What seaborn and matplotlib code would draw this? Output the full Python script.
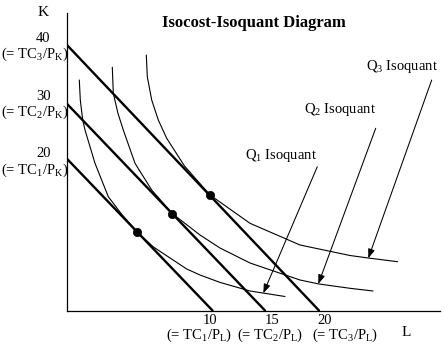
import numpy as np
import pandas as pd
import matplotlib
matplotlib.use("Agg")
import matplotlib.pyplot as plt
import seaborn as sns

# ---------------- data (chart units: 1 unit ~ 1 px from the origin) ----------------
isocost_names = ["TC1", "TC2", "TC3"]
isocost_K_intercept = [152.2, 207.2, 266.0]   # where each isocost meets the K axis
isocost_L_intercept = [146.0, 198.5, 252.5]   # where each isocost meets the L axis
K_tick_values = ["20", "30", "40"]
L_tick_values = ["10", "15", "20"]

q1_L = [12.8, 13.8, 16.2, 18.5, 28.5, 41.8, 55.2, 70.2, 86.8, 120.2, 133.5, 153.5, 183.5, 218.5]
q1_K = [230.5, 210.5, 190.5, 180.5, 147.2, 113.8, 96.2, 79.0, 63.6, 41.5, 35.5, 28.1, 19.5, 14.0]

q2_L = [45.8, 46.8, 51.5, 56.8, 68.5, 85.2, 105.7, 133.5, 153.5, 183.5, 233.5, 252.5, 283.5, 306.5]
q2_K = [243.2, 217.2, 197.0, 180.5, 147.2, 120.5, 97.0, 75.5, 62.5, 47.5, 30.5, 26.5, 22.2, 19.5]

q3_L = [79.8, 80.8, 85.2, 91.8, 100.2, 118.0, 143.5, 183.5, 233.5, 283.5, 301.8, 331.0]
q3_K = [255.5, 233.8, 210.5, 190.5, 172.2, 144.5, 115.5, 87.2, 65.5, 55.0, 52.5, 48.8]

tangent_L = [70.2, 105.7, 143.5]
tangent_K = [79.0, 97.0, 115.5]

arrow_start_L = [250.8, 309.2, 365.2]
arrow_start_K = [143.8, 182.2, 230.5]
arrow_tip_L = [196.8, 251.8, 301.8]
arrow_tip_K = [17.2, 26.5, 52.2]

# ---------------- build tables ----------------
iso_rows = []
for n, k, l in zip(isocost_names, isocost_K_intercept, isocost_L_intercept):
    iso_rows.append({"curve": n, "L": 0.0, "K": k})
    iso_rows.append({"curve": n, "L": l, "K": 0.0})
isocost_df = pd.DataFrame(iso_rows)

isoq_df = pd.concat([
    pd.DataFrame({"curve": "Q1", "L": q1_L, "K": q1_K}),
    pd.DataFrame({"curve": "Q2", "L": q2_L, "K": q2_K}),
    pd.DataFrame({"curve": "Q3", "L": q3_L, "K": q3_K}),
], ignore_index=True)

tan_df = pd.DataFrame({"L": tangent_L, "K": tangent_K})

# ---------------- style ----------------
sns.set_style("white")
plt.rcParams["font.family"] = ["Liberation Serif", "DejaVu Serif"]
plt.rcParams["mathtext.fontset"] = "custom"
plt.rcParams["mathtext.rm"] = "Liberation Serif"
plt.rcParams["mathtext.it"] = "Liberation Serif:italic"
plt.rcParams["mathtext.bf"] = "Liberation Serif:bold"

W, H = 445, 348
fig = plt.figure(figsize=(W / 100, H / 100), dpi=100)
ax = fig.add_axes([66.5 / W, 37.5 / H, 373.5 / W, 297.5 / H])

sns.lineplot(data=isoq_df, x="L", y="K", hue="curve", palette=["black"] * 3,
             sort=False, estimator=None, legend=False, lw=0.8, ax=ax)
sns.lineplot(data=isocost_df, x="L", y="K", hue="curve", palette=["black"] * 3,
             sort=False, estimator=None, legend=False, lw=1.7, ax=ax)
sns.scatterplot(data=tan_df, x="L", y="K", color="black", s=36, edgecolor="black",
                linewidth=0.5, zorder=5, ax=ax)

for sl, sk, tl, tk in zip(arrow_start_L, arrow_start_K, arrow_tip_L, arrow_tip_K):
    ax.annotate("", xy=(tl, tk), xytext=(sl, sk),
                arrowprops=dict(arrowstyle="-|>,head_length=0.55,head_width=0.2",
                                color="black", lw=0.75, shrinkA=0, shrinkB=0,
                                mutation_scale=10))

ax.set_xlim(0, 373.5)
ax.set_ylim(0, 297.5)
ax.set_xticks([])
ax.set_yticks([])
ax.set_xlabel("")
ax.set_ylabel("")
for s in ["top", "right"]:
    ax.spines[s].set_visible(False)
for s in ["left", "bottom"]:
    ax.spines[s].set_color("black")
    ax.spines[s].set_linewidth(0.9)

fs = 10.5
tkw = dict(fontsize=fs, ha="center", va="center", clip_on=False, color="black")

ax.text(187.5, 287.5, "Isocost-Isoquant Diagram", fontweight="bold", **{**tkw, "fontsize": 12})
ax.text(-23.5, 298.5, "K", **{**tkw, "fontsize": 11})
ax.text(340.2, -21.8, "L", **{**tkw, "fontsize": 11})

# K-axis labels
k_num_pos = [(-22.5, 157.2), (-22.5, 214.5), (-23.2, 272.2)]
k_par_pos = [(-31.5, 139.8), (-31.5, 198.2), (-31.5, 256.2)]
for i, (v, pn, pp) in enumerate(zip(K_tick_values, k_num_pos, k_par_pos)):
    ax.text(pn[0], pn[1], v, **tkw)
    ax.text(pp[0], pp[1], r"(= TC$_{%d}$/P$_{\mathrm{K}}$)" % (i + 1), **tkw)

# L-axis labels
l_num_pos = [(143.5, -9.5), (205.8, -9.5), (258.5, -9.5)]
l_par_pos = [(132.5, -24.5), (203.5, -24.5), (278.8, -24.5)]
for i, (v, pn, pp) in enumerate(zip(L_tick_values, l_num_pos, l_par_pos)):
    ax.text(pn[0], pn[1], v, **tkw)
    ax.text(pp[0], pp[1], r"(= TC$_{%d}$/P$_{\mathrm{L}}$)" % (i + 1), **tkw)

# isoquant labels
q_pos = [(214.3, 155.5), (274.0, 200.5), (335.8, 243.8)]
for i, p in enumerate(q_pos):
    ax.text(p[0], p[1], r"Q$_{%d}$ Isoquant" % (i + 1), **tkw)

fig.savefig("out.png", dpi=100)
